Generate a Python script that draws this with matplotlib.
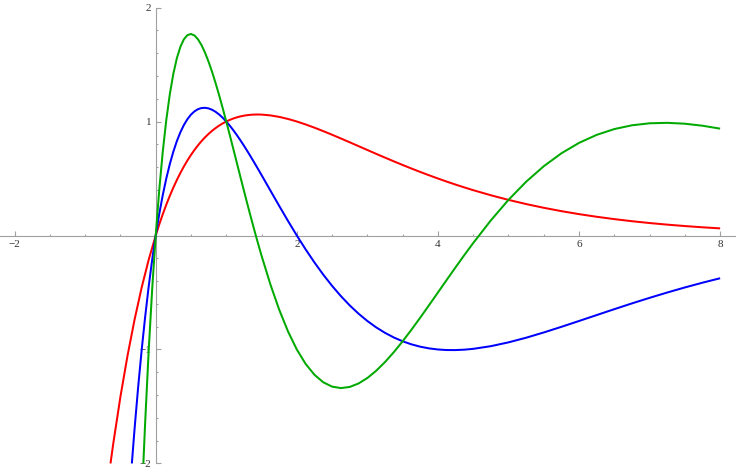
import numpy as np
import matplotlib
matplotlib.use('Agg')
import matplotlib.pyplot as plt
from matplotlib.ticker import FixedLocator

# shared x grid for x >= 0 (finer where the curves bend most)
x_pos = [0, 0.05, 0.1, 0.15, 0.2, 0.25, 0.3, 0.35, 0.4, 0.45, 0.5, 0.55, 0.6, 0.65,
         0.7, 0.75, 0.8, 0.85, 0.9, 0.95, 1.0, 1.05, 1.1, 1.15, 1.2, 1.25, 1.3, 1.35,
         1.4, 1.45, 1.5,
         1.625, 1.75, 1.875, 2.0, 2.125, 2.25, 2.375, 2.5, 2.625, 2.75, 2.875, 3.0,
         3.125, 3.25, 3.375, 3.5, 3.625, 3.75, 3.875, 4.0, 4.125, 4.25, 4.375, 4.5,
         4.75, 5.0, 5.25, 5.5, 5.75, 6.0, 6.25, 6.5, 6.75, 7.0, 7.25, 7.5, 7.75, 8.0]

# red curve
x_red_neg = [-0.641, -0.6, -0.5, -0.4, -0.3, -0.2, -0.1]
y_red_neg = [-2.0, -1.819, -1.414, -1.056, -0.739, -0.459, -0.214]
y_red = [0, 0.0966, 0.1866, 0.2704, 0.3482, 0.4204, 0.4874, 0.5492, 0.6063, 0.6588,
         0.7071, 0.7513, 0.7917, 0.8285, 0.8618, 0.8919, 0.9190, 0.9431, 0.9646,
         0.9835, 1.0, 1.0142, 1.0263, 1.0364, 1.0447, 1.0511, 1.0559, 1.0592, 1.0610,
         1.0615, 1.0607,
         1.0537, 1.0406, 1.0224, 1.0, 0.9743, 0.9460, 0.9157, 0.8839, 0.8511, 0.8176,
         0.7838, 0.75, 0.7164, 0.6832, 0.6506, 0.6187, 0.5876, 0.5574, 0.5282, 0.5,
         0.4728, 0.4467, 0.4217, 0.3978,
         0.3531, 0.3125, 0.2759, 0.2431, 0.2137, 0.1875, 0.1643, 0.1437, 0.1254,
         0.1094, 0.0953, 0.0829, 0.0720, 0.0625]

# blue curve
x_blue_neg = [-0.338, -0.3, -0.25, -0.2, -0.15, -0.1, -0.05]
y_blue_neg = [-2.0, -1.699, -1.338, -1.011, -0.716, -0.450, -0.212]
y_blue = [0, 0.1884, 0.3546, 0.5002, 0.6268, 0.7358, 0.8285, 0.9062, 0.9701, 1.0212,
          1.0607, 1.0894, 1.1084, 1.1184, 1.1203, 1.1149, 1.1028, 1.0846, 1.0611,
          1.0327, 1.0, 0.9635, 0.9237, 0.8810, 0.8357, 0.7883, 0.7392, 0.6885, 0.6366,
          0.5838, 0.5303,
          0.3951, 0.2601, 0.1278, 0, -0.1218, -0.2365, -0.3434, -0.4419, -0.5319,
          -0.6132, -0.6858, -0.75, -0.8060, -0.8540, -0.8946, -0.9281, -0.9549,
          -0.9755, -0.9904, -1.0, -1.0048, -1.0051, -1.0015, -0.9944,
          -0.9709, -0.9375, -0.8968, -0.8507, -0.8013, -0.75, -0.6981, -0.6464,
          -0.5957, -0.5469, -0.5002, -0.4558, -0.4140, -0.375]

# green curve
x_green_neg = [-0.175, -0.15, -0.1, -0.05]
y_green_neg = [-2.0, -1.647, -1.016, -0.470]
y_green = [0, 0.3994, 0.7352, 1.0135, 1.2397, 1.4190, 1.5563, 1.6559, 1.7219, 1.7580,
           1.7678, 1.7543, 1.7207, 1.6694, 1.6029, 1.5237, 1.4336, 1.3345, 1.2282,
           1.1163, 1.0, 0.8807, 0.7595, 0.6374, 0.5153, 0.3942, 0.2745, 0.1571,
           0.0424, -0.0690, -0.1768,
           -0.4281, -0.6503, -0.8413, -1.0, -1.1266, -1.2219, -1.2877, -1.3258,
           -1.3386, -1.3286, -1.2982, -1.25, -1.1866, -1.1102, -1.0234, -0.9281,
           -0.8264, -0.7200, -0.6108, -0.5, -0.3891, -0.2792, -0.1713, -0.0663,
           0.1324, 0.3125, 0.4714, 0.6076, 0.7211, 0.8125, 0.8828, 0.9337, 0.9668,
           0.9844, 0.9884, 0.9807, 0.9630, 0.9375]

x_labels = [-2, 2, 4, 6, 8]
y_labels = [-2, -1, 1, 2]

fig = plt.figure(figsize=(7.36, 4.71), dpi=100)
ax = fig.add_axes([0, 0, 1, 1])

ax.plot(x_red_neg + x_pos, y_red_neg + y_red, color='#ff0000', lw=1.45,
        solid_capstyle='butt', solid_joinstyle='round')
ax.plot(x_blue_neg + x_pos, y_blue_neg + y_blue, color='#0000ff', lw=1.45,
        solid_capstyle='butt', solid_joinstyle='round')
ax.plot(x_green_neg + x_pos, y_green_neg + y_green, color='#00aa00', lw=1.45,
        solid_capstyle='butt', solid_joinstyle='round')

ax.set_xlim(-2.207, 8.225)
ax.set_ylim(-2.066, 2.066)

# axes through the origin, mathematica style
ax.spines['top'].set_visible(False)
ax.spines['right'].set_visible(False)
ax.spines['left'].set_position(('data', 0))
ax.spines['bottom'].set_position(('data', 0))
ax.spines['left'].set_bounds(-2, 2)
for s in ['left', 'bottom']:
    ax.spines[s].set_color('#a0a0a0')
    ax.spines[s].set_linewidth(0.8)
    ax.spines[s].set_zorder(0)

ax.xaxis.set_major_locator(FixedLocator(x_labels))
ax.xaxis.set_minor_locator(FixedLocator([v for v in np.arange(-2, 8.01, 0.5) if v not in x_labels and v != 0]))
ax.yaxis.set_major_locator(FixedLocator(y_labels))
ax.yaxis.set_minor_locator(FixedLocator([v for v in np.round(np.arange(-2, 2.01, 0.2), 1) if v not in y_labels and v != 0]))
ax.set_xticklabels(['\u22122', '2', '4', '6', '8'])
ax.set_yticklabels(['\u22122', '\u22121', '1', '2'])

ax.tick_params(which='both', direction='in', color='#a0a0a0', width=0.8,
               labelsize=8, labelcolor='#333333', pad=3)
ax.tick_params(which='major', length=3.5)
ax.tick_params(which='minor', length=1.6)
for lab in ax.get_xticklabels() + ax.get_yticklabels():
    lab.set_fontfamily('Liberation Serif')

fig.savefig('out.png', dpi=100)
